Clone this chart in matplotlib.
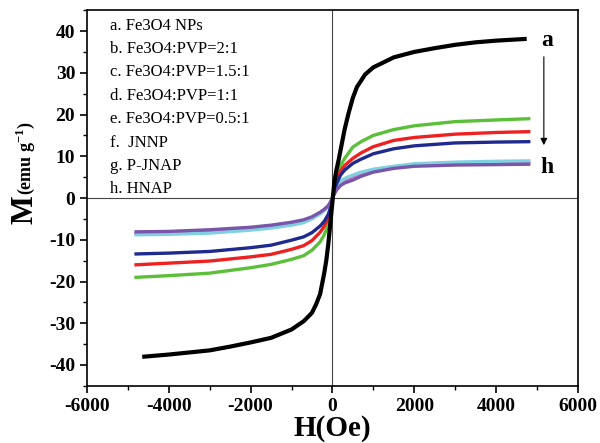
import matplotlib
matplotlib.use('Agg')
import matplotlib.pyplot as plt
from matplotlib.ticker import MultipleLocator

plt.rcParams['font.family'] = ['Liberation Serif', 'DejaVu Serif']
plt.rcParams['mathtext.fontset'] = 'custom'
plt.rcParams['mathtext.rm'] = 'Liberation Serif'
plt.rcParams['mathtext.bf'] = 'Liberation Serif:bold'
plt.rcParams['axes.unicode_minus'] = False

# field values (Oe)
H = [-4800, -4000, -3000, -2000, -1500, -1000, -700, -500, -300, -200, -100, -50, 0,
     50, 100, 200, 300, 500, 700, 1000, 1500, 2000, 3000, 4000, 4800]
H_a = [-4600, -4000, -3500, -3000, -2500, -2000, -1500, -1000, -700, -500, -400, -300, -200,
       -150, -100, -50, 0, 50, 100, 150, 200, 300, 400, 500, 600, 800, 1000, 1500, 2000, 2500,
       3000, 3500, 4000, 4700]

# magnetization (emu/g)
M_a = [-38.0, -37.5, -37.0, -36.5, -35.6, -34.6, -33.5, -31.5, -29.5, -27.5, -25.5, -23.0, -18.0,
       -15.0, -11.0, -6.0, -1.0, 4.0, 6.8, 9.0, 11.5, 16.5, 20.5, 24.0, 26.6, 29.6, 31.3, 33.7,
       35.0, 35.9, 36.7, 37.3, 37.7, 38.1]
M_green = [-19.0, -18.6, -18.0, -16.7, -15.9, -14.7, -13.8, -12.5, -10.5, -8.8, -6.5, -4.0, 0.0,
           2.5, 4.5, 7.8, 9.5, 12.2, 13.5, 15.0, 16.4, 17.3, 18.3, 18.7, 19.0]
M_red = [-16.0, -15.6, -15.1, -14.1, -13.5, -12.3, -11.4, -10.2, -8.2, -6.8, -4.8, -3.0, 0.0,
         2.2, 4.0, 6.5, 7.8, 9.5, 10.8, 12.3, 13.8, 14.5, 15.3, 15.7, 15.9]
M_blue = [-13.4, -13.2, -12.8, -11.9, -11.3, -10.1, -9.3, -8.3, -6.7, -5.6, -3.9, -2.4, 0.0,
          1.9, 3.4, 5.5, 6.7, 8.3, 9.3, 10.6, 11.8, 12.5, 13.2, 13.4, 13.5]
M_cyan = [-8.8, -8.7, -8.4, -7.7, -7.2, -6.5, -5.9, -5.0, -3.8, -3.0, -2.0, -1.2, 0.0,
          1.6, 2.8, 4.0, 4.7, 5.5, 6.2, 6.9, 7.6, 8.2, 8.6, 8.8, 8.9]
M_pink = [-8.6, -8.4, -8.1, -7.4, -6.9, -6.2, -5.6, -4.8, -3.6, -2.9, -1.9, -1.1, 0.0,
          1.4, 2.5, 3.7, 4.3, 5.1, 5.9, 6.7, 7.4, 7.9, 8.3, 8.5, 8.6]
M_purple = [-8.1, -8.0, -7.6, -7.0, -6.5, -5.8, -5.2, -4.5, -3.4, -2.7, -1.8, -1.0, 0.0,
            1.0, 1.9, 3.0, 3.6, 4.3, 5.2, 6.2, 7.1, 7.6, 7.9, 8.0, 8.1]

legend_labels = ['a. Fe3O4 NPs', 'b. Fe3O4:PVP=2:1', 'c. Fe3O4:PVP=1.5:1',
                 'd. Fe3O4:PVP=1:1', 'e. Fe3O4:PVP=0.5:1', 'f.  JNNP',
                 'g. P-JNAP', 'h. HNAP']

fig = plt.figure(figsize=(6.0, 4.43), dpi=100)
ax = fig.add_axes([0.145, 0.129, 0.818, 0.848])

ax.axhline(0, color='#444444', lw=0.8, zorder=1)
ax.axvline(0, color='#444444', lw=0.8, zorder=1)

ax.plot(H, M_pink, color='#d070c0', lw=2.4, zorder=2)
ax.plot(H, M_cyan, color='#7fd0e0', lw=2.4, zorder=2)
ax.plot(H, M_green, color='#5cbf3a', lw=2.4, zorder=3)
ax.plot(H, M_red, color='#ee2020', lw=2.4, zorder=3)
ax.plot(H, M_blue, color='#1f2a8f', lw=2.4, zorder=3)
ax.plot(H, M_purple, color='#7a56aa', lw=2.4, zorder=4)
ax.plot(H_a, M_a, color='black', lw=3.0, zorder=5)

ax.set_xlim(-6000, 6000)
ax.set_ylim(-45, 45)
ax.xaxis.set_major_locator(MultipleLocator(2000))
ax.xaxis.set_minor_locator(MultipleLocator(1000))
ax.yaxis.set_major_locator(MultipleLocator(10))
ax.yaxis.set_minor_locator(MultipleLocator(5))
ax.tick_params(which='major', direction='out', length=5, width=1.2, labelsize=14)
ax.tick_params(which='minor', direction='out', length=3, width=1.0)
for lab in ax.get_xticklabels() + ax.get_yticklabels():
    lab.set_fontweight('bold')
for sp in ax.spines.values():
    sp.set_linewidth(1.2)

ax.set_xlabel('H(Oe)', fontsize=21, fontweight='bold', labelpad=0)

# y label: big "M" plus smaller unit part
fig.text(25 / 600, 1 - 210 / 443, 'M', fontsize=22, fontweight='bold', rotation=90,
         ha='center', va='center')
fig.text(25 / 600, 1 - 158 / 443, r'(emu g$^{\mathbf{-1}}$)', fontsize=13, fontweight='bold',
         rotation=90, ha='center', va='center')

for i, txt in enumerate(legend_labels):
    ax.text(-5440, 41.3 - i * 5.6, txt, fontsize=12, va='center', ha='left')

ax.text(5240, 37.8, 'a', fontsize=17, fontweight='bold', ha='center', va='center')
ax.text(5240, 7.2, 'h', fontsize=17, fontweight='bold', ha='center', va='center')
ax.annotate('', xy=(5170, 12.0), xytext=(5170, 34.5),
            arrowprops=dict(arrowstyle='-|>', color='black', lw=0.8, mutation_scale=10))

fig.savefig('out.png', dpi=100)
